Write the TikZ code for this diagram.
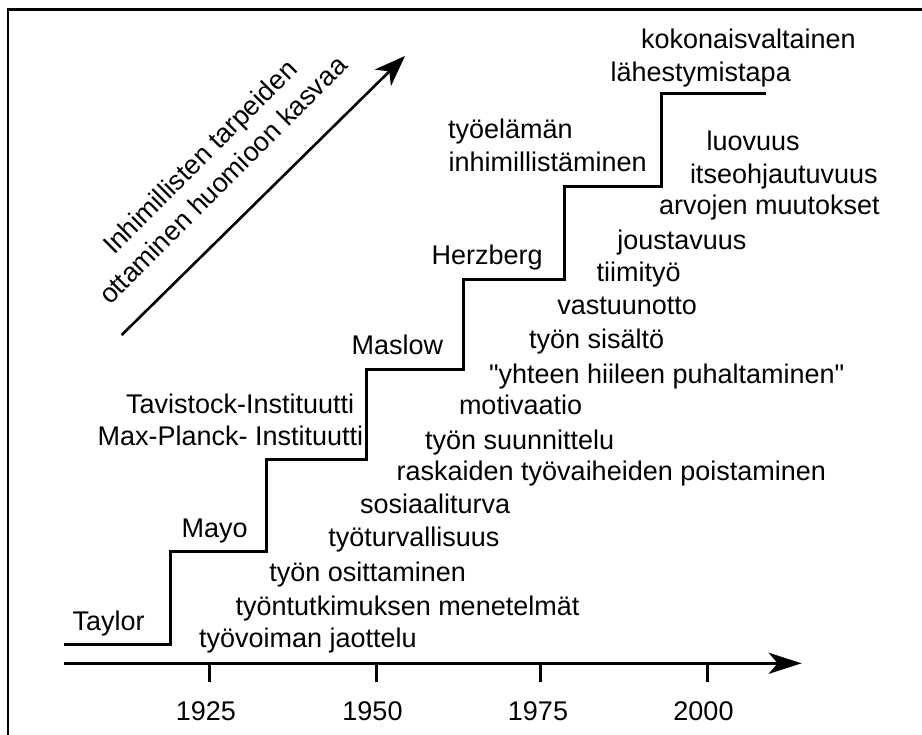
\documentclass[tikz,border=0pt]{standalone}
\usepackage{fontspec}
\setmainfont{Liberation Sans}[Ligatures=TeXOff]
\usetikzlibrary{arrows.meta}
\begin{document}
\begin{tikzpicture}[x=1pt,y=-1pt,
  lbl/.style={inner sep=0pt, outer sep=0pt, anchor=base west, font=\fontsize{27}{32.4}\selectfont},
  lble/.style={lbl, anchor=base east},
  yr/.style={lbl, anchor=base},
  stair/.style={line width=3pt, line join=miter},
  axisline/.style={line width=3pt, -{Stealth[length=33pt,width=21pt,inset=9pt]}},
  tick/.style={line width=3pt},
  trend/.style={line width=2.6pt, -{Stealth[length=31pt,width=23pt,inset=9pt]}},
  frameline/.style={line width=2.6pt}]
\useasboundingbox (0,0) rectangle (922,735);
% frame (cropped)
\draw[frameline] (8,735) -- (8,9.5) -- (922,9.5);
% staircase
\draw[stair] (64,644) -- (170,644) -- (170,551.7) -- (266.7,551.7) -- (266.7,459.3)
  -- (366.7,459.3) -- (366.7,370) -- (463.3,370) -- (463.3,279.3) -- (564.3,279.3)
  -- (564.3,186.7) -- (661.7,186.7) -- (661.7,94) -- (766,94);
% time axis
\coordinate (ax0) at (64,663.3);
\coordinate (ax1) at (801.7,663.3);
\draw[axisline] (ax0) -- (ax1);
\foreach \x/\c/\y in {209/205.8/1925, 376/372.5/1950, 540/538/1975, 707/703.5/2000}{
  \draw[tick] (\x,663.3) -- (\x,682.3);
  \node[yr] (y\y) at (\c,720.7) {\y};
}
% trend arrow
\coordinate (tr0) at (121.7,335);
\coordinate (tr1) at (405,56);
\draw[trend] (tr0) -- (tr1);
\node[yr, rotate=45] (tr1l) at (206.4,163.6) {Inhimillisten tarpeiden};
\node[yr, rotate=45] (tr2l) at (229.4,186.6) {ottaminen huomioon kasvaa};
% step names
\node[lbl] (taylor) at (72.7,630) {Taylor};
\node[lbl] (mayo) at (181.7,537.7) {Mayo};
\node[lbl] (tav) at (126,413.3) {Tavistock-Instituutti};
\node[lbl] (maxp) at (97.7,446) {Max-Planck- Instituutti};
\node[lbl] (maslow) at (351.7,354.3) {Maslow};
\node[lbl] (herz) at (431.7,264.3) {Herzberg};
\node[lble] (tyoel) at (572.7,138.3) {työelämän};
\node[lble] (inhim) at (646.7,171.7) {inhimillistäminen};
\node[lbl] (koko) at (641,49) {kokonaisvaltainen};
\node[lbl] (lahe) at (610.7,81.7) {lähestymistapa};
% list
\node[lbl] (l1) at (706.7,150.7) {luovuus};
\node[lbl] (l2) at (690,183.3) {itseohjautuvuus};
\node[lbl] (l3) at (659,215) {arvojen muutokset};
\node[lbl] (l4) at (617.3,249.3) {joustavuus};
\node[lbl] (l5) at (596.7,281.7) {tiimityö};
\node[lbl] (l6) at (557.3,315) {vastuunotto};
\node[lbl] (l7) at (529,348.3) {työn sisältö};
\node[lbl] (l8) at (489,383.3) {"yhteen hiileen puhaltaminen"};
\node[lbl] (l9) at (459,415) {motivaatio};
\node[lbl] (l10) at (425,449.3) {työn suunnittelu};
\node[lbl] (l11) at (396.7,481) {raskaiden työvaiheiden poistaminen};
\node[lbl] (l12) at (360,514) {sosiaaliturva};
\node[lbl] (l13) at (328.3,546.7) {työturvallisuus};
\node[lbl] (l14) at (269.3,581.7) {työn osittaminen};
\node[lbl] (l15) at (235.7,615) {työntutkimuksen menetelmät};
\node[lbl] (l16) at (199,647) {työvoiman jaottelu};
\end{tikzpicture}
\end{document}
